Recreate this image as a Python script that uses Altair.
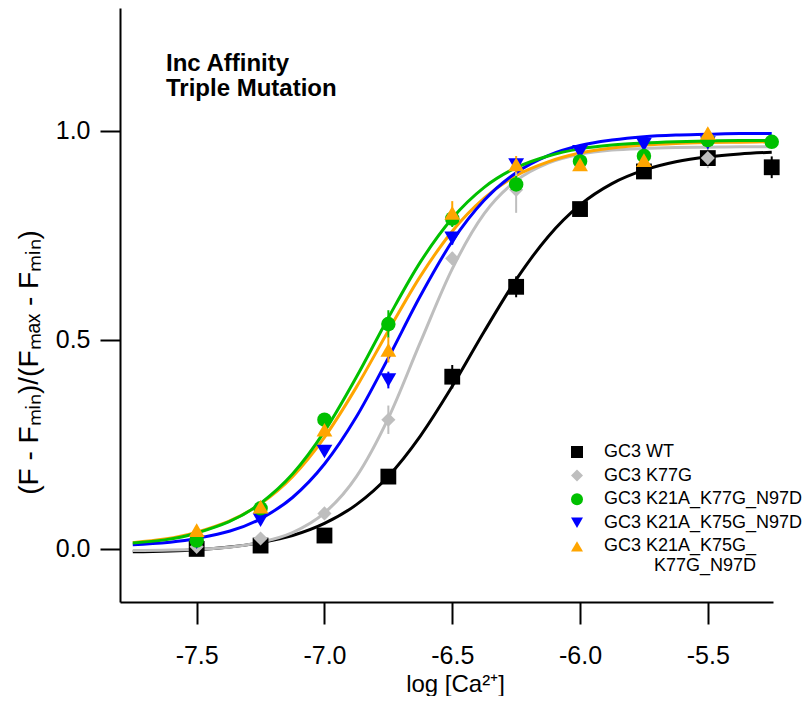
import altair as alt
import pandas as pd

# ---------------- data ----------------
series_names = ["GC3 WT", "GC3 K77G", "GC3 K21A_K77G_N97D",
                "GC3 K21A_K75G_N97D", "GC3 K21A_K75G_K77G_N97D"]

log_ca = [-7.5, -7.25, -7.0, -6.75, -6.5, -6.25, -6.0, -5.75, -5.5, -5.25]

wt      = [0.000, 0.008, 0.032, 0.173, 0.412, 0.627, 0.813, 0.903, 0.935, 0.913]
wt_err  = [0.005, 0.010, 0.008, 0.012, 0.028, 0.025, 0.010, 0.010, 0.010, 0.026]

k77g     = [0.005, 0.025, 0.085, 0.309, 0.695, 0.859, 0.935, 0.940, 0.935, None]
k77g_err = [0.005, 0.010, 0.012, 0.034, 0.015, 0.055, 0.010, 0.015, 0.024, None]

tri_a     = [0.020, 0.097, 0.309, 0.538, 0.790, 0.872, 0.927, 0.940, 0.978, 0.974]
tri_a_err = [0.005, 0.010, 0.015, 0.033, 0.020, 0.020, 0.010, 0.010, 0.010, 0.010]

tri_b     = [0.016, 0.069, 0.233, 0.404, 0.743, 0.918, 0.950, 0.967, 0.971, None]
tri_b_err = [0.005, 0.010, 0.010, 0.020, 0.015, 0.010, 0.010, 0.010, 0.010, None]

quad     = [0.045, 0.101, 0.285, 0.476, 0.804, 0.920, 0.920, 0.930, 0.995, None]
quad_err = [0.010, 0.010, 0.010, 0.030, 0.028, 0.020, 0.010, 0.012, 0.012, None]

# fitted curves
fit_x = [-7.75, -7.5, -7.25, -7.125, -7.0, -6.875, -6.75, -6.625, -6.5, -6.375,
         -6.25, -6.125, -6.0, -5.875, -5.75, -5.625, -5.5, -5.375, -5.25]
fit_wt    = [-0.007, -0.002, 0.015, 0.032, 0.061, 0.106, 0.174, 0.270, 0.389, 0.520,
             0.644, 0.747, 0.823, 0.874, 0.906, 0.926, 0.938, 0.945, 0.949]
fit_k77g  = [-0.004, -0.001, 0.016, 0.039, 0.086, 0.173, 0.313, 0.494, 0.670, 0.802,
             0.881, 0.923, 0.944, 0.954, 0.958, 0.960, 0.961, 0.962, 0.962]
fit_tri_a = [0.014, 0.038, 0.109, 0.179, 0.281, 0.411, 0.553, 0.686, 0.791, 0.865,
             0.912, 0.940, 0.957, 0.966, 0.971, 0.974, 0.976, 0.977, 0.977]
fit_tri_b = [0.010, 0.025, 0.072, 0.123, 0.203, 0.316, 0.457, 0.605, 0.736, 0.834,
             0.900, 0.941, 0.965, 0.978, 0.986, 0.990, 0.992, 0.994, 0.994]
fit_quad  = [0.015, 0.040, 0.108, 0.173, 0.267, 0.387, 0.522, 0.652, 0.760, 0.839,
             0.893, 0.926, 0.947, 0.959, 0.966, 0.970, 0.972, 0.973, 0.974]

x_ticks = [-7.5, -7.0, -6.5, -6.0, -5.5]
y_ticks = [0.0, 0.5, 1.0]
annotation = ["Inc Affinity", "Triple Mutation"]

# ---------------- styling ----------------
colors = ["#000000", "#BEBEBE", "#00C000", "#0000FF", "#FFA500"]
shapes = ["square", "diamond", "circle", "triangle-down", "triangle-up"]
marker_size = {"GC3 WT": 250, "GC3 K77G": 200, "GC3 K21A_K77G_N97D": 210,
               "GC3 K21A_K75G_N97D": 250, "GC3 K21A_K75G_K77G_N97D": 250}
FONT = "Liberation Sans, Arial, sans-serif"

# ---------------- tables ----------------
point_series = {
    "GC3 WT": (wt, wt_err),
    "GC3 K77G": (k77g, k77g_err),
    "GC3 K21A_K75G_N97D": (tri_b, tri_b_err),
    "GC3 K21A_K77G_N97D": (tri_a, tri_a_err),
    "GC3 K21A_K75G_K77G_N97D": (quad, quad_err),
}
rows = []
for name, (vals, errs) in point_series.items():
    for xv, yv, ev in zip(log_ca, vals, errs):
        if yv is None:
            continue
        rows.append({"series": name, "eseries": name, "x": xv, "y": yv,
                     "lo": yv - ev, "hi": yv + ev, "sz": marker_size[name]})
pts = pd.DataFrame(rows)

fit_series = {
    "GC3 WT": fit_wt,
    "GC3 K77G": fit_k77g,
    "GC3 K21A_K75G_K77G_N97D": fit_quad,
    "GC3 K21A_K75G_N97D": fit_tri_b,
    "GC3 K21A_K77G_N97D": fit_tri_a,
}
crow = []
for name, vals in fit_series.items():
    for xv, yv in zip(fit_x, vals):
        crow.append({"fit": name, "x": xv, "y": yv})
curves = pd.DataFrame(crow)

xscale = alt.Scale(domain=[-7.8, -5.245], nice=False, zero=False)
yscale = alt.Scale(domain=[-0.127, 1.294], nice=False, zero=False)
# same mapping, listed in reverse so that this (legend-less) scale stays separate
stroke_scale = alt.Scale(domain=series_names[::-1], range=colors[::-1])

minus_fix = "replace(format(datum.value, '.1f'), '\u2212', '-')"
xaxis = alt.Axis(values=x_ticks, labelExpr=minus_fix, title="log [Ca\u00b2\u207a]",
                 tickSize=22, labelPadding=19, labelFontSize=25, titleFontSize=24,
                 titleY=89, titleX=335, titleBaseline="alphabetic")
yaxis = alt.Axis(values=y_ticks, labelExpr=minus_fix,
                 title="(F - F\u2098\u1d62\u2099)/(F\u2098\u2090\u2093 - F\u2098\u1d62\u2099)",
                 tickSize=20, labelPadding=10, labelFontSize=25, titleFontSize=28,
                 titleX=-91, titleY=354, titleAlign="center", titleBaseline="middle")

layers = []
for name in fit_series:
    layers.append(
        alt.Chart(curves).transform_filter(alt.datum.fit == name)
        .mark_line(strokeWidth=3, interpolate="monotone").encode(
            x=alt.X("x:Q", scale=xscale, axis=xaxis),
            y=alt.Y("y:Q", scale=yscale, axis=yaxis),
            stroke=alt.Stroke("fit:N", scale=stroke_scale, legend=None),
        )
    )

errs = alt.Chart(pts).mark_rule(strokeWidth=2).encode(
    x=alt.X("x:Q", scale=xscale, axis=xaxis),
    y=alt.Y("lo:Q", scale=yscale, axis=yaxis),
    y2="hi:Q",
    stroke=alt.Stroke("eseries:N", scale=stroke_scale, legend=None),
)
layers.append(errs)

indent = "\u200b" + "\u00a0" * 10
legend = alt.Legend(
    title=None, orient="none", legendX=448, legendY=435,
    labelFontSize=18, labelFont=FONT, labelColor="black", labelLimit=400,
    symbolSize=144, symbolStrokeWidth=0, rowPadding=5.6, labelOffset=18, padding=0,
    labelExpr="datum.label == 'GC3 K21A_K75G_K77G_N97D' ? ['GC3 K21A_K75G_', '"
              + indent + "K77G_N97D'] : datum.label",
)

points = alt.Chart(pts).mark_point(filled=True, opacity=1).encode(
    x=alt.X("x:Q", scale=xscale, axis=xaxis),
    y=alt.Y("y:Q", scale=yscale, axis=yaxis),
    color=alt.Color("series:N", scale=alt.Scale(domain=series_names, range=colors),
                    legend=legend),
    shape=alt.Shape("series:N", scale=alt.Scale(domain=series_names, range=shapes),
                    legend=legend),
    size=alt.Size("sz:Q", scale=None, legend=None),
)
layers.append(points)

label = alt.Chart(pd.DataFrame({"k": [0]})).mark_text(
    text=annotation, align="left", baseline="alphabetic", lineHeight=25,
    fontSize=24, fontWeight="bold", font=FONT, color="black",
).encode(x=alt.datum(-7.62, scale=xscale), y=alt.datum(1.144, scale=yscale))
layers.append(label)

chart = alt.layer(*layers).properties(
    width=653, height=594,
    autosize=alt.AutoSizeParams(type="none"),
    padding={"left": 112, "top": 0, "right": 29, "bottom": 94},
).configure_view(stroke=None).configure_axis(
    grid=False, domainColor="black", tickColor="black", labelColor="black",
    titleColor="black", domainWidth=2, tickWidth=2, labelFont=FONT, titleFont=FONT,
    titleFontWeight="normal",
)

chart.save("out.html", embed_options={"renderer": "svg", "actions": False})
